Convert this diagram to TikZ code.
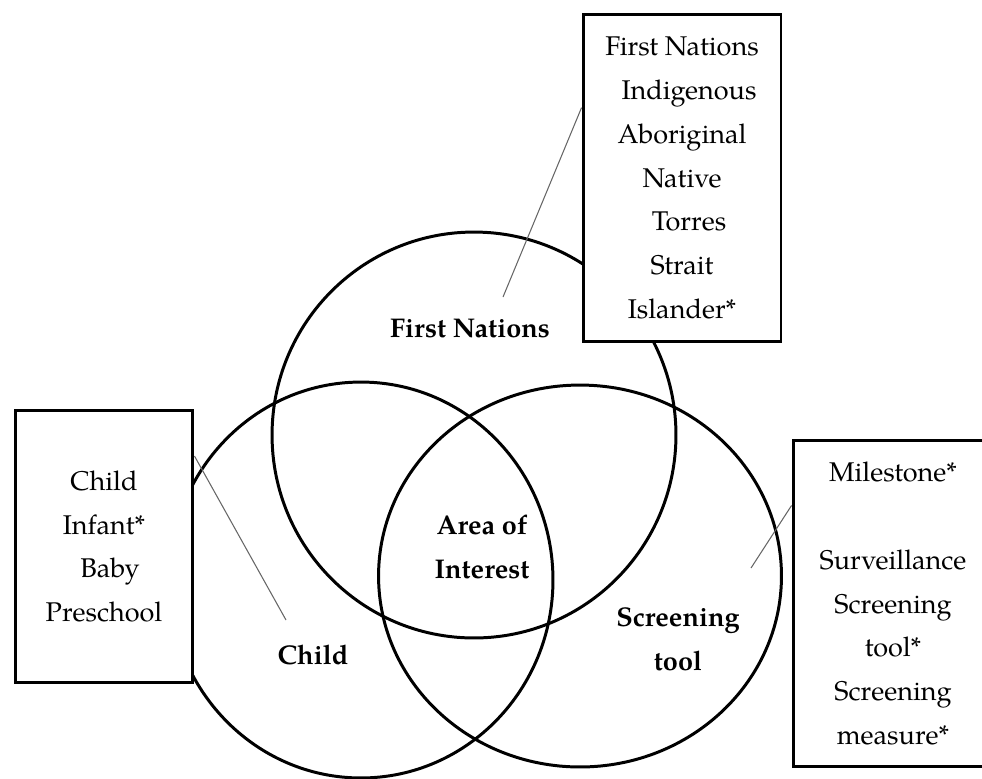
\documentclass[tikz,border=0pt]{standalone}
\usepackage{fontspec}
\setmainfont{TeX Gyre Pagella}
\usetikzlibrary{shapes.geometric}

\begin{document}
\begin{tikzpicture}[x=0.02cm, y=-0.02cm,
    ring/.style={draw, ellipse, line width=1.7pt, inner sep=0pt},
    termbox/.style={draw, rectangle, fill=white, line width=1.7pt, inner sep=0pt, align=center, font=\fontsize{15.4}{24.9}\selectfont},
    setname/.style={align=center, font=\bfseries\fontsize{15.4}{24.9}\selectfont},
    pin/.style={draw=black!60, line width=0.6pt}]
\useasboundingbox (0,0) rectangle (982,778);

\node[ring, minimum width=8.08cm, minimum height=8.12cm] (fnring) at (474,435) {};
\node[ring, minimum width=7.68cm, minimum height=7.92cm] (childring) at (361,580) {};
\node[ring, minimum width=8.06cm, minimum height=7.64cm] (toolring) at (580,576) {};

\node[termbox, minimum width=3.96cm, minimum height=6.56cm] (fnbox) at (682,178) {First Nations\\ \hspace*{0.28cm}Indigenous\\ Aboriginal\\ Native\\ \hspace*{0.28cm}Torres\\ Strait\\ Islander*};
\node[termbox, minimum width=3.56cm, minimum height=5.46cm] (childbox) at (104,546.5) {Child\\ Infant*\\ \hspace*{0.24cm}Baby\\ Preschool};
\node[termbox, minimum width=4cm, minimum height=6.54cm] (toolbox) at (893,603.5) {Milestone*\\[24.9pt] Surveillance\\ Screening\\ tool*\\ Screening\\ measure*};

\node[setname] (fnname) at (470,329) {First Nations};
\node[setname] (aoiname) at (482,547) {Area of\\ Interest};
\node[setname] (childname) at (313,655) {Child};
\node[setname] (toolname) at (678,639) {Screening\\ tool};

\coordinate (fnpin) at (503,297);
\coordinate (childpin) at (286,620);
\coordinate (toolpin) at (751,568);
\draw[pin] (fnpin) -- (fnbox.145);
\draw[pin] (childpin) -- (childbox.45);
\draw[pin] (toolpin) -- (toolbox.136);

\end{tikzpicture}
\end{document}
